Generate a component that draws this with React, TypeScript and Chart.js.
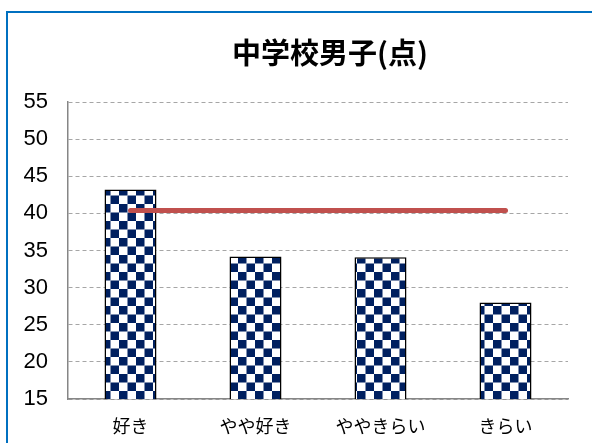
import React, { useEffect, useRef } from "react";
import { Chart, registerables } from "chart.js";

Chart.register(...registerables);

const categories = ["好き", "やや好き", "ややきらい", "きらい"];
const scores = [43.2, 34.2, 34.1, 28.0];
const average = [40.4, 40.4, 40.4, 40.4];
const yMin = 15;
const yMax = 55;
const yStep = 5;
const titleText = "中学校男子(点)";

function makePattern(ctx: CanvasRenderingContext2D) {
  const c = document.createElement("canvas");
  c.width = 17;
  c.height = 17;
  const p = c.getContext("2d")!;
  p.fillStyle = "#ffffff";
  p.fillRect(0, 0, 17, 17);
  p.fillStyle = "#002060";
  p.fillRect(0, 0, 8.5, 8.5);
  p.fillRect(8.5, 8.5, 8.5, 8.5);
  return ctx.createPattern(c, "repeat")!;
}

export default function App() {
  const ref = useRef<HTMLCanvasElement>(null);
  useEffect(() => {
    const canvas = ref.current!;
    const ctx = canvas.getContext("2d")!;
    const pattern = makePattern(ctx);
    const chart = new Chart(canvas, {
      data: {
        labels: categories,
        datasets: [
          {
            type: "line",
            data: average,
            borderColor: "#C0504D",
            borderWidth: 5,
            borderCapStyle: "round",
            pointRadius: 0,
            order: 0,
          } as any,
          {
            type: "bar",
            data: scores,
            backgroundColor: pattern,
            borderColor: "#000000",
            borderWidth: 1.5,
            barPercentage: 0.416,
            categoryPercentage: 1,
            order: 1,
          } as any,
        ],
      },
      options: {
        responsive: false,
        animation: false,
        layout: { padding: { left: 0, right: 0, top: 0, bottom: 0 } },
        plugins: {
          legend: { display: false },
          tooltip: { enabled: false },
          title: {
            display: true,
            text: titleText,
            color: "#000000",
            font: { family: "'Noto Sans CJK JP'", size: 29, weight: "bold", lineHeight: 1.2 },
            padding: { top: 36, bottom: 31.2 },
          },
        },
        scales: {
          x: {
            grid: { display: false },
            border: { display: true, color: "#868686", width: 1.5 },
            ticks: {
              color: "#000000",
              font: { family: "'Noto Sans CJK JP'", size: 18 },
              padding: 8,
              maxRotation: 0,
            },
            afterFit: (s: any) => {
              s.height = 44;
            },
          },
          y: {
            min: yMin,
            max: yMax,
            ticks: {
              stepSize: yStep,
              color: "#000000",
              font: { family: "'Liberation Sans'", size: 22 },
              padding: 20,
            },
            grid: { color: "#A6A6A6", lineWidth: 1, drawTicks: false },
            border: { display: true, color: "#868686", width: 1.5, dash: [4, 3] },
            afterFit: (s: any) => {
              s.width = 68;
            },
          },
          spacer: {
            type: "linear",
            position: "right",
            display: true,
            ticks: { display: false },
            grid: { display: false, drawTicks: false },
            border: { display: false },
            afterFit: (s: any) => {
              s.width = 92;
            },
          },
        },
      },
    });
    return () => chart.destroy();
  }, []);
  return (
    <div
      style={{
        position: "fixed",
        left: 0,
        top: 0,
        width: 592,
        height: 443,
        overflow: "hidden",
        background: "#ffffff",
      }}
    >
      <div
        style={{
          position: "absolute",
          left: 6,
          top: 11,
          width: 700,
          height: 700,
          border: "2px solid #0070C0",
        }}
      />
      <canvas
        ref={ref}
        width={660}
        height={443}
        style={{ position: "absolute", left: 0, top: 0 }}
      />
    </div>
  );
}
